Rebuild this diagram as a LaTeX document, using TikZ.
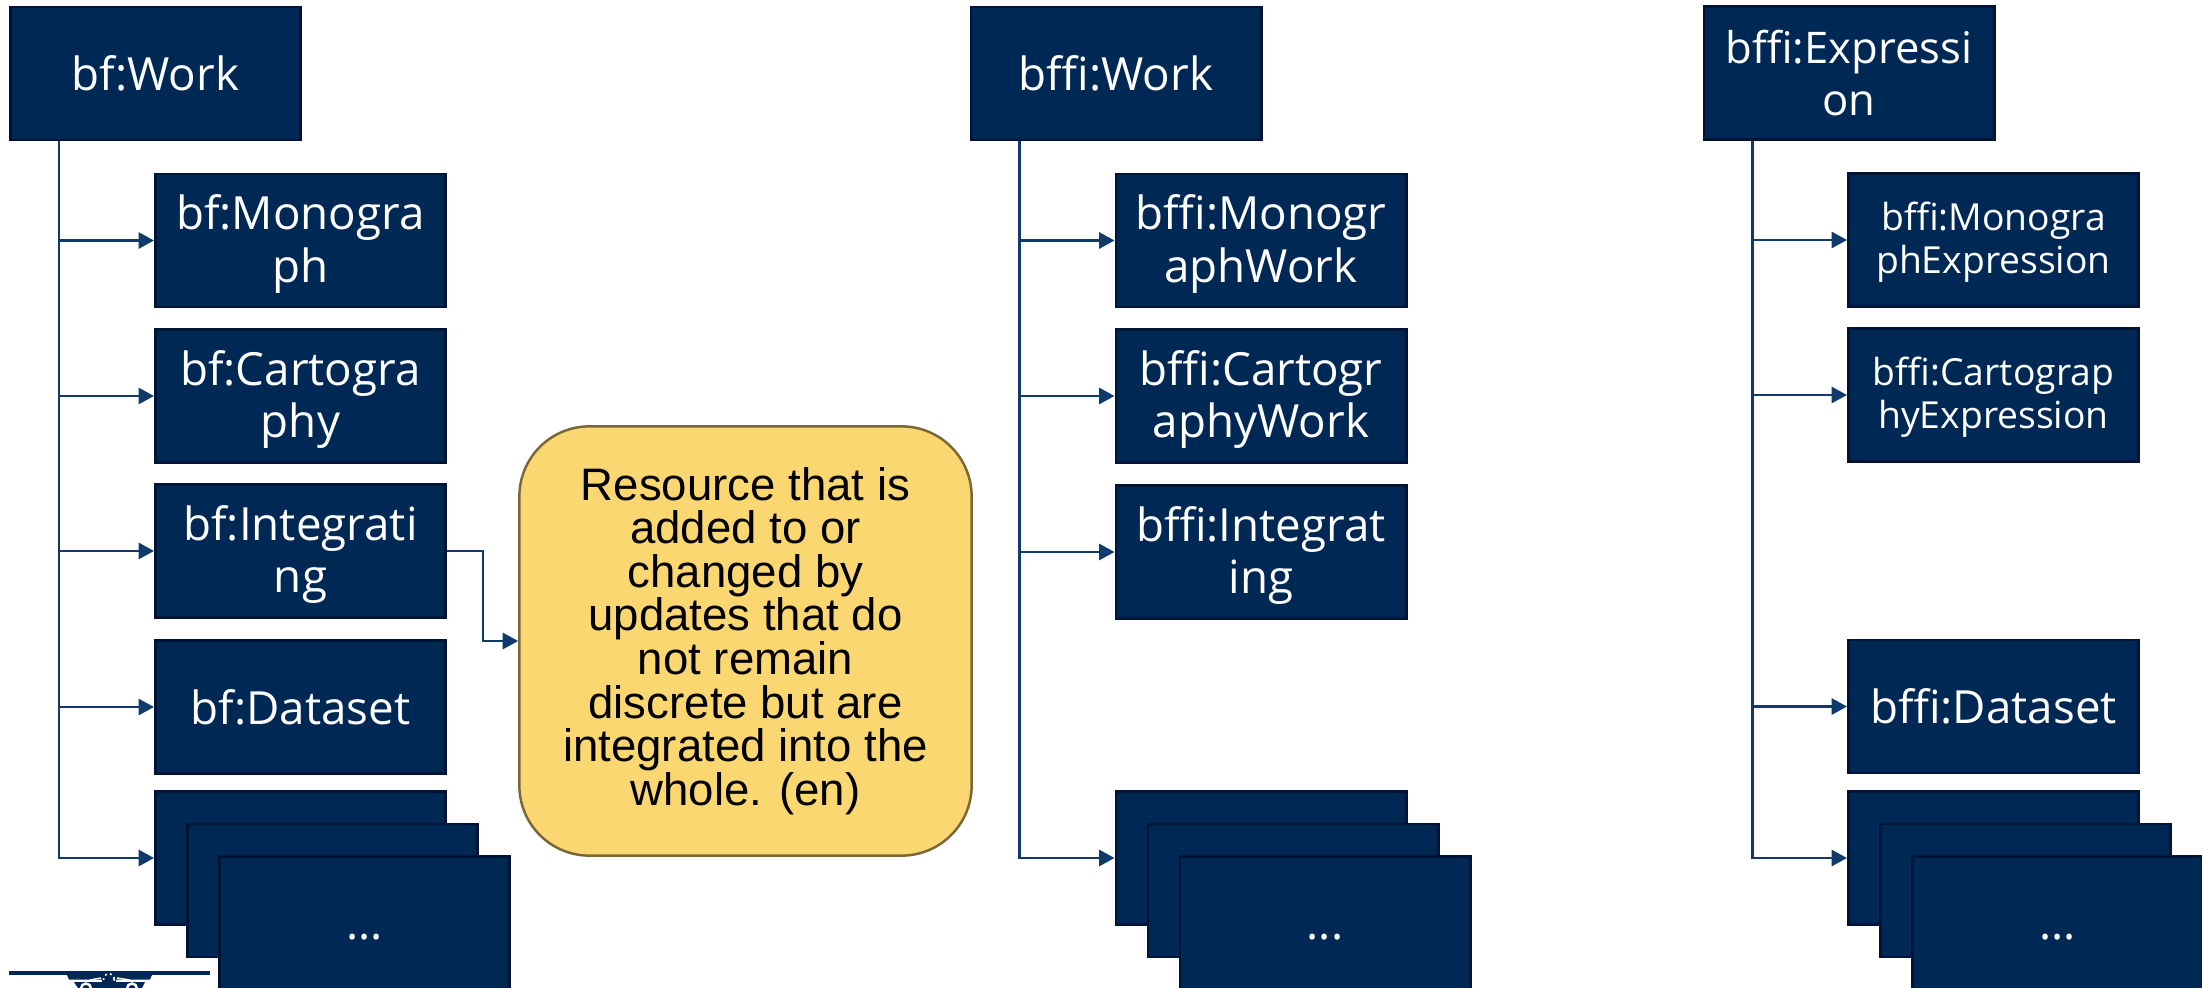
\documentclass[tikz,border=0pt]{standalone}
\usepackage{fontspec}
\usepackage{graphicx,tikz}
\usetikzlibrary{arrows.meta}
\setmainfont{Open Sans}
\newfontfamily\notefont{Liberation Sans}
\definecolor{navy}{HTML}{002855}
\definecolor{navyedge}{HTML}{001438}
\definecolor{linkblue}{HTML}{0F3A6B}
\definecolor{notefill}{HTML}{FBD772}
\definecolor{noteedge}{HTML}{7A6736}
\newcommand{\moredots}{\raisebox{-1.6mm}[0pt][0pt]{...}}
\tikzset{
    classbox/.style={draw=navyedge,fill=navy,line width=0.8pt,text=white,minimum width=2.90cm,minimum height=1.33cm,inner sep=0pt,align=center,font=\fontsize{13pt}{15pt}\selectfont},
    tallbox/.style={classbox,text height=27pt},
    smallbox/.style={classbox,text height=21.6pt,font=\fontsize{10.6pt}{12.2pt}\selectfont},
    notebox/.style={draw=noteedge,fill=notefill,line width=0.7pt,rounded corners=0.7cm,minimum width=4.52cm,minimum height=4.29cm,inner sep=0pt,align=center,text=black,font=\notefont\fontsize{12.95pt}{12.4pt}\selectfont},
    link/.style={draw=linkblue,line width=0.75pt,-{Triangle[length=4.4pt,width=4.6pt]}},
}

\begin{document}
\begin{tikzpicture}[x=0.01cm,y=-0.01cm]
    \useasboundingbox (0,0) rectangle (2202,988);

    % left column
    \node[classbox] (bfWork) at (155.5,73.5) {bf:Work};
    \node[tallbox] (bfMono) at (300.5,240.5) {bf:Monogra\\ph};
    \node[tallbox] (bfCarto) at (300.5,396) {bf:Cartogra\\phy};
    \node[tallbox] (bfInt) at (300.5,551) {bf:Integrati\\ng};
    \node[classbox] (bfData) at (300.5,707) {bf:Dataset};
    \node[classbox] (bfMoreA) at (300.5,858) {};
    \node[classbox] (bfMoreB) at (332.5,890.5) {};
    \node[classbox] (bfMoreC) at (364.5,923) {\moredots};
    \foreach \child in {bfMono,bfCarto,bfInt,bfData,bfMoreA}
        \draw[link] ([xshift=0.50cm]bfWork.south west) |- (\child.west);

    % note
    \node[notebox] (note) at (745.5,641) {Resource that is\\added to or\\changed by\\updates that do\\not remain\\discrete but are\\integrated into the\\whole. (en)};
    \draw[link] (bfInt.east) -- ++(36,0) |- (note.west);

    % middle column
    \node[classbox] (bffiWork) at (1116,73.5) {bffi:Work};
    \node[tallbox] (bffiMono) at (1261,240.5) {bffi:Monogr\\aphWork};
    \node[tallbox] (bffiCarto) at (1261,396) {bffi:Cartogr\\aphyWork};
    \node[tallbox] (bffiInt) at (1261,552) {bffi:Integrat\\ing};
    \node[classbox] (bffiMoreA) at (1261,858) {};
    \node[classbox] (bffiMoreB) at (1293,890.5) {};
    \node[classbox] (bffiMoreC) at (1325,923) {\moredots};
    \foreach \child in {bffiMono,bffiCarto,bffiInt,bffiMoreA}
        \draw[link] ([xshift=0.50cm]bffiWork.south west) |- (\child.west);

    % right column
    \node[classbox,font=\fontsize{12.4pt}{15pt}\selectfont] (exprWork) at (1849,73) {bffi:Expressi\\on};
    \node[smallbox] (exprMono) at (1993.5,240) {bffi:Monogra\\phExpression};
    \node[smallbox] (exprCarto) at (1993.5,395) {bffi:Cartograp\\hyExpression};
    \node[classbox] (exprData) at (1993.5,706.5) {bffi:Dataset};
    \node[classbox] (exprMoreA) at (1993.5,858) {};
    \node[classbox] (exprMoreB) at (2025.5,890.5) {};
    \node[classbox] (exprMoreC) at (2057.5,923) {\moredots};
    \foreach \child in {exprMono,exprCarto,exprData,exprMoreA}
        \draw[link] ([xshift=0.50cm]exprWork.south west) |- (\child.west);

    % logo
    \fill[navy] (9,971) rectangle (210,975);
    \fill[navy] (67,975) -- (152,975) -- (150,979.5) -- (69,979.5) -- cycle;
    \fill[navy] (109,979) circle (7.5);
    \draw[white,line width=0.5pt,densely dotted] (109,979) circle (5.5);
    \draw[white,line width=0.4pt] (90,980) -- (101,978) (117,978) -- (130,980);
    \fill[navy] (74,982) -- (145,982) -- (142,988) -- (78,988) -- cycle;
    \draw[white,line width=0.7pt] (86,988.5) circle (5) (132,988.5) circle (5);
\end{tikzpicture}
\end{document}
